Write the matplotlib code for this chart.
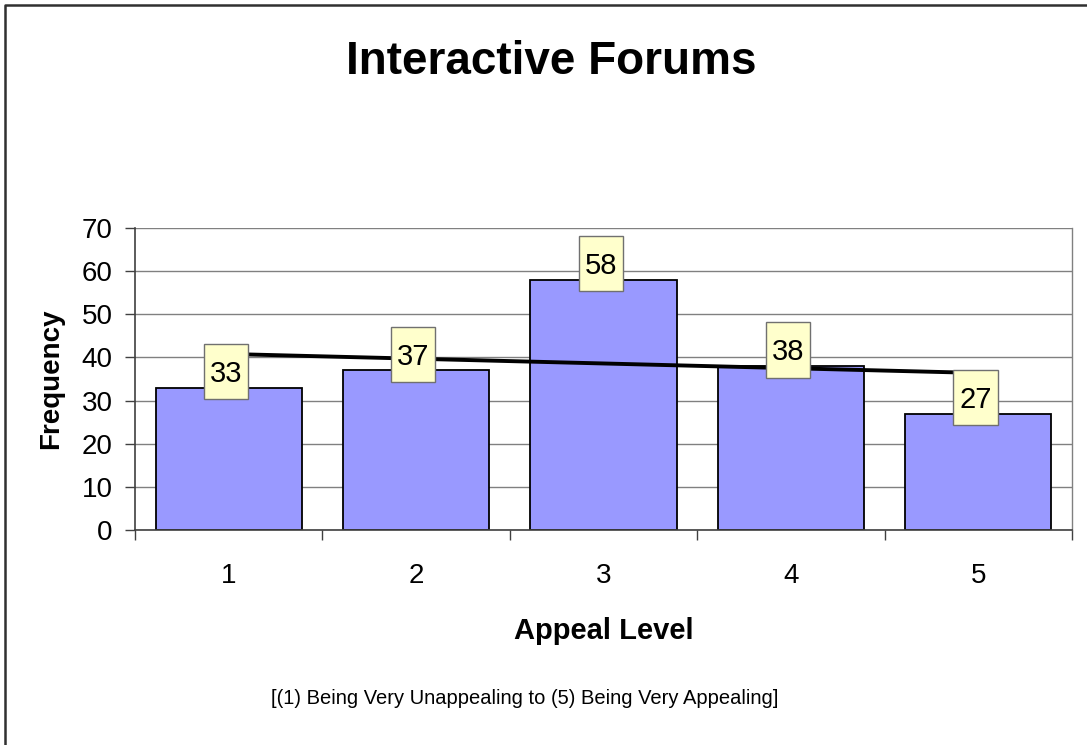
import numpy as np
import matplotlib.pyplot as plt
from matplotlib.patches import Rectangle
from matplotlib.lines import Line2D

plt.rcParams['font.family'] = ['Liberation Sans', 'DejaVu Sans']

# Data
levels = [1, 2, 3, 4, 5]
level_labels = ['1', '2', '3', '4', '5']
frequency = [33, 37, 58, 38, 27]
y_ticks = [0, 10, 20, 30, 40, 50, 60, 70]

x = np.array(levels, dtype=float)
y = np.array(frequency, dtype=float)

fig = plt.figure(figsize=(10.87, 7.45), dpi=100)
ax = fig.add_axes([135 / 1087, 1 - 530 / 745, (1072 - 135) / 1087, (530 - 228) / 745])

# Gridlines behind bars
ax.set_axisbelow(True)
ax.yaxis.grid(True, color='#808080', linewidth=1.0)

ax.bar(x, y, width=0.78, color='#9999FF', edgecolor='black', linewidth=1.3, zorder=2)

# Linear trend line
slope, intercept = np.polyfit(x, y, 1)
ax.plot([x[0], x[-1]], [intercept + slope * x[0], intercept + slope * x[-1]],
        color='black', linewidth=2.8, solid_capstyle='round', zorder=3)

# Data labels in little yellow boxes
box_w = 0.235
box_h = 12.8
for xi, yi in zip(x, y):
    cx = xi - 0.015
    cy = yi + 3.7
    ax.add_patch(Rectangle((cx - box_w / 2, cy - box_h / 2), box_w, box_h,
                           facecolor='#FFFFCC', edgecolor='#707070', linewidth=1.0,
                           zorder=4))
    ax.text(cx, cy - 2.4, f'{int(yi)}', ha='center', va='baseline', fontsize=21,
            color='black', zorder=5)

ax.set_xlim(0.5, 5.5)
ax.set_ylim(0, 70)
ax.set_yticks(y_ticks)
ax.set_xticks(levels)
ax.set_xticklabels(level_labels)
ax.set_xticks(np.arange(0.5, 5.6, 1.0), minor=True)
ax.tick_params(axis='x', which='major', length=0, pad=24, labelsize=20)
ax.tick_params(axis='x', which='minor', length=7, width=1.0, color='#404040', direction='out')
ax.tick_params(axis='y', length=7, width=1.0, color='#404040', pad=9, labelsize=20)

for side in ['left', 'bottom']:
    ax.spines[side].set_color('#404040')
    ax.spines[side].set_linewidth(1.2)
ax.spines['top'].set_visible(False)
ax.spines['right'].set_color('#808080')
ax.spines['right'].set_linewidth(1.0)

ax.set_ylabel('Frequency', fontsize=20, fontweight='bold', labelpad=13)
ax.set_xlabel('Appeal Level', fontsize=21, fontweight='bold', labelpad=20)

fig.text(0.507, 1 - 62 / 745, 'Interactive Forums', ha='center', va='center',
         fontsize=33, fontweight='bold')
fig.text(525 / 1087, 1 - 698 / 745, '[(1) Being Very Unappealing to (5) Being Very Appealing]',
         ha='center', va='center', fontsize=14.5)

# Outer chart border (only top and left visible in the crop)
fig.add_artist(Line2D([5 / 1087, 5 / 1087, 1.0], [0.0, 1 - 5 / 745, 1 - 5 / 745],
                      transform=fig.transFigure, color='#303030', linewidth=1.8))

fig.savefig('out.png', dpi=100)
